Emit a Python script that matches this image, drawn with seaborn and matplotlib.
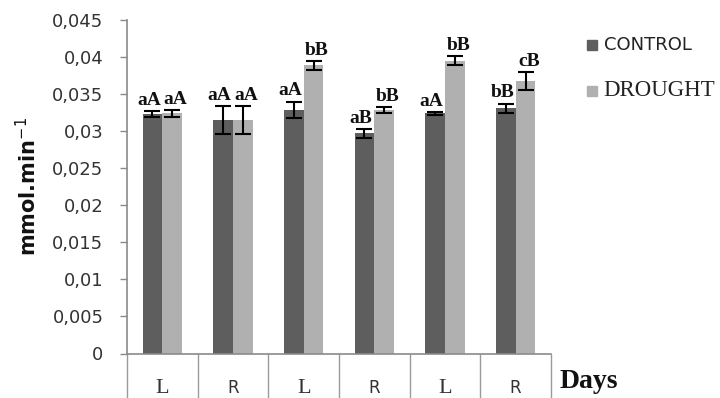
import numpy as np
import pandas as pd
import matplotlib
matplotlib.use("Agg")
import matplotlib.pyplot as plt
import seaborn as sns

# Six sampling days, two treatments
day_labels = ["L", "R", "L", "R", "L", "R"]
control = [0.0323, 0.0315, 0.0329, 0.0297, 0.0324, 0.0331]
drought = [0.0324, 0.0315, 0.0389, 0.0328, 0.0395, 0.0368]
control_err = [0.00045, 0.0019, 0.0011, 0.0006, 0.0002, 0.0006]
drought_err = [0.00045, 0.0019, 0.0006, 0.0004, 0.0006, 0.0012]
control_letters = ["aA", "aA", "aA", "aB", "aA", "bB"]
drought_letters = ["aA", "aA", "bB", "bB", "bB", "cB"]
treatments = ["CONTROL", "DROUGHT"]
yticks = [0, 0.005, 0.01, 0.015, 0.02, 0.025, 0.03, 0.035, 0.04, 0.045]

sns.set_style("white")

n = len(day_labels)
df = pd.DataFrame({
    "day": [str(i) for i in range(n)] * 2,
    "treatment": [treatments[0]] * n + [treatments[1]] * n,
    "value": control + drought,
})

fig = plt.figure(figsize=(7.2, 3.98), dpi=100)
ax = fig.add_axes([127 / 720, 1 - 353.5 / 398, (551 - 127) / 720, (353.5 - 20) / 398])

palette = {"CONTROL": "#5e5e5e", "DROUGHT": "#b0b0b0"}
sns.barplot(data=df, x="day", y="value", hue="treatment", palette=palette,
            width=0.56, errorbar=None, saturation=1, ax=ax, legend=False,
            edgecolor="none")

# error bars and significance letters above each bar
bars_c = ax.patches[:n]
bars_d = ax.patches[n:2 * n]
for bars, vals, errs, letters, dx in [(bars_c, control, control_err, control_letters, -2.5),
                                      (bars_d, drought, drought_err, drought_letters, 2.5)]:
    xs = [b.get_x() + b.get_width() / 2 for b in bars]
    ax.errorbar(xs, vals, yerr=errs, fmt="none", ecolor="black",
                elinewidth=1.5, capsize=6, capthick=1.5, zorder=5)
    for x, v, e, t in zip(xs, vals, errs, letters):
        ax.annotate(t, (x, v + e), xytext=(dx, 4.5), textcoords="offset points",
                    ha="center", va="baseline", fontsize=14, fontweight="bold",
                    family="Liberation Serif", color="#111111")

ax.set_ylim(0, 0.045)
ax.set_xlim(-0.5, n - 0.5)
ax.set_yticks(yticks)
ax.set_yticklabels([("%g" % v).replace(".", ",") for v in yticks],
                   fontsize=13, color="#333333", family="DejaVu Sans")
ax.tick_params(axis="y", direction="out", length=5, width=1, color="#8a8a8a", pad=12, left=True)

# day labels, with long minor ticks as separators between days
ax.set_xticks(range(n))
ax.set_xticklabels(day_labels)
for lab, txt in zip(ax.get_xticklabels(), day_labels):
    if txt == "L":
        lab.set_family("Liberation Serif")
        lab.set_fontsize(16)
    else:
        lab.set_family("DejaVu Sans")
        lab.set_fontsize(12)
    lab.set_color("#333333")
    lab.set_va("center")
ax.tick_params(axis="x", which="major", length=0, pad=25)
ax.set_xticks(np.arange(-0.5, n, 1.0), minor=True)
ax.tick_params(axis="x", which="minor", direction="out", length=34, width=1, color="#9a9a9a", bottom=True)

for s in ["top", "right"]:
    ax.spines[s].set_visible(False)
for s in ["left", "bottom"]:
    ax.spines[s].set_color("#8a8a8a")
    ax.spines[s].set_linewidth(1.2)

ax.set_xlabel("")
ax.set_ylabel("mmol.min$^{-1}$", fontsize=15, fontweight="bold", family="DejaVu Sans",
              color="#111111")
ax.yaxis.set_label_coords(-0.205, 0.5)

fig.text(560 / 720, 1 - 382 / 398, "Days", fontsize=20, fontweight="bold",
         family="Liberation Serif", va="center", ha="left", color="#111111")

# legend drawn as squares with labels on the right
fig.patches.append(plt.Rectangle((587 / 720, 1 - 50 / 398), 10 / 720, 10 / 398,
                                 transform=fig.transFigure, color=palette["CONTROL"]))
fig.text(604 / 720, 1 - 45 / 398, "CONTROL", fontsize=13, family="DejaVu Sans",
         va="center", ha="left", color="#222222")
fig.patches.append(plt.Rectangle((587 / 720, 1 - 96 / 398), 10 / 720, 10 / 398,
                                 transform=fig.transFigure, color=palette["DROUGHT"]))
fig.text(603 / 720, 1 - 90 / 398, "DROUGHT", fontsize=16.5, family="Liberation Serif",
         va="center", ha="left", color="#222222")

fig.savefig("out.png", dpi=100)
